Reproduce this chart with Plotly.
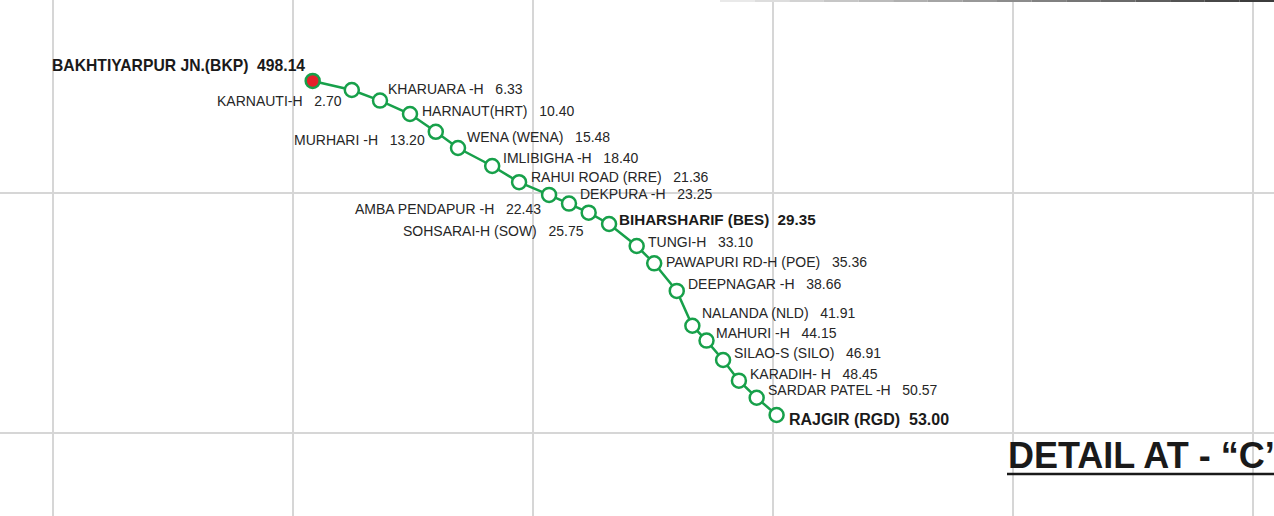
import plotly.graph_objects as go

# Station data (map coordinates in grid units; chainage in km)
stations = [
    "BAKHTIYARPUR JN.(BKP)", "KARNAUTI-H", "KHARUARA -H", "HARNAUT(HRT)", "MURHARI -H",
    "WENA (WENA)", "IMLIBIGHA -H", "RAHUI ROAD (RRE)", "AMBA PENDAPUR -H", "DEKPURA -H",
    "SOHSARAI-H (SOW)", "BIHARSHARIF (BES)", "TUNGI-H", "PAWAPURI RD-H (POE)", "DEEPNAGAR -H",
    "NALANDA (NLD)", "MAHURI -H", "SILAO-S (SILO)", "KARADIH- H", "SARDAR PATEL -H",
    "RAJGIR (RGD)",
]
chainage = [498.14, 2.70, 6.33, 10.40, 13.20, 15.48, 18.40, 21.36, 22.43, 23.25,
            25.75, 29.35, 33.10, 35.36, 38.66, 41.91, 44.15, 46.91, 48.45, 50.57, 53.00]
map_x = [1.082, 1.245, 1.3625, 1.4875, 1.595, 1.6875, 1.830, 1.942, 2.067, 2.150,
         2.232, 2.317, 2.432, 2.505, 2.599, 2.664, 2.723, 2.792, 2.858, 2.932, 3.015]
map_y = [1.467, 1.429, 1.385, 1.329, 1.255, 1.1875, 1.1125, 1.045, 0.992, 0.956,
         0.918, 0.871, 0.779, 0.707, 0.592, 0.447, 0.385, 0.304, 0.218, 0.147, 0.075]
major = ["BAKHTIYARPUR JN.(BKP)", "BIHARSHARIF (BES)", "RAJGIR (RGD)"]
junction = "BAKHTIYARPUR JN.(BKP)"
title_text = "DETAIL AT - \u201cC\u2019"

# label placement (pixel offsets from marker, anchor side)
label_dx = [-6, -8, 6, 10, -9, 7, 9, 10, -6, 9, -3, 8, 9, 10, 9, 8, 7, 9, 9, 9, 10]
label_dy = [15, -11, 12, 3, -8, 11, 8, 5, -14, 9.5, -18, 4, 4, 1, 7, 13, 7.5, 7, 7, 8, -4]
label_side = ["right", "right", "left", "left", "right", "left", "left", "left", "right", "left",
              "right", "left", "left", "left", "left", "left", "left", "left", "left", "left", "left"]

GREEN = "#17a04a"
RED = "#e5202a"
FONT = "Liberation Sans, Arial, sans-serif"

fig = go.Figure()
fig.add_trace(go.Scatter(
    x=map_x, y=map_y, mode="lines+markers",
    line=dict(color=GREEN, width=2.5),
    marker=dict(size=14, color=[RED if s == junction else "white" for s in stations],
                line=dict(color=GREEN, width=2.5)),
    hoverinfo="skip", showlegend=False,
))

NB = "\u00a0"
for i, name in enumerate(stations):
    is_major = name in major
    gap = NB * 2 if is_major else NB * 3
    txt = f"{name}{gap}{chainage[i]:.2f}"
    if is_major:
        txt = f"<b>{txt}</b>"
    size = 14
    if name == junction:
        size = 15.7
    elif name == "RAJGIR (RGD)":
        size = 16
    elif is_major:
        size = 15.2
    fig.add_annotation(
        x=map_x[i], y=map_y[i], xref="x", yref="y", text=txt, showarrow=False,
        xanchor=label_side[i], yanchor="middle",
        xshift=label_dx[i], yshift=label_dy[i],
        font=dict(family=FONT, size=size, color="#1a1a1a" if is_major else "#262626"),
    )

W, H = 1274, 516

# title
fig.add_annotation(
    x=1006 / W, y=1 - 455 / H, xref="paper", yref="paper", text=f"<b>{title_text}</b>",
    showarrow=False, xanchor="left", yanchor="middle",
    font=dict(family=FONT, size=36, color="#1a1a1a"),
)

shapes = [dict(type="line", xref="paper", yref="paper", x0=1007 / W, x1=1.0,
               y0=1 - 474 / H, y1=1 - 474 / H, line=dict(color="#1a1a1a", width=2.5))]
# top border fading in from the left
n_seg = 16
start, end = 720, 1274
for k in range(n_seg):
    a = start + (end - start) * k / n_seg
    b = start + (end - start) * (k + 1) / n_seg
    g = int(245 - (245 - 60) * (k + 1) / n_seg)
    shapes.append(dict(type="line", xref="paper", yref="paper", x0=a / W, x1=b / W,
                       y0=1 - 1 / H, y1=1 - 1 / H,
                       line=dict(color=f"rgb({g},{g},{g})", width=2)))

fig.update_layout(
    width=W, height=H, margin=dict(l=0, r=0, t=0, b=0),
    paper_bgcolor="white", plot_bgcolor="white",
    shapes=shapes,
    xaxis=dict(range=[-53 / 240, (W - 53) / 240], dtick=1, tick0=0, showgrid=True,
               gridcolor="#d6d6d6", gridwidth=1.5, zeroline=False, showticklabels=False,
               showline=False, fixedrange=True),
    yaxis=dict(range=[(433 - H) / 240, 433 / 240], dtick=1, tick0=0, showgrid=True,
               gridcolor="#d6d6d6", gridwidth=1.5, zeroline=False, showticklabels=False,
               showline=False, fixedrange=True),
)
fig.write_html("out.html", config={"displayModeBar": False},
               post_script="document.body.style.margin='0';document.body.style.padding='0';"
                           "document.body.style.overflow='hidden';")
